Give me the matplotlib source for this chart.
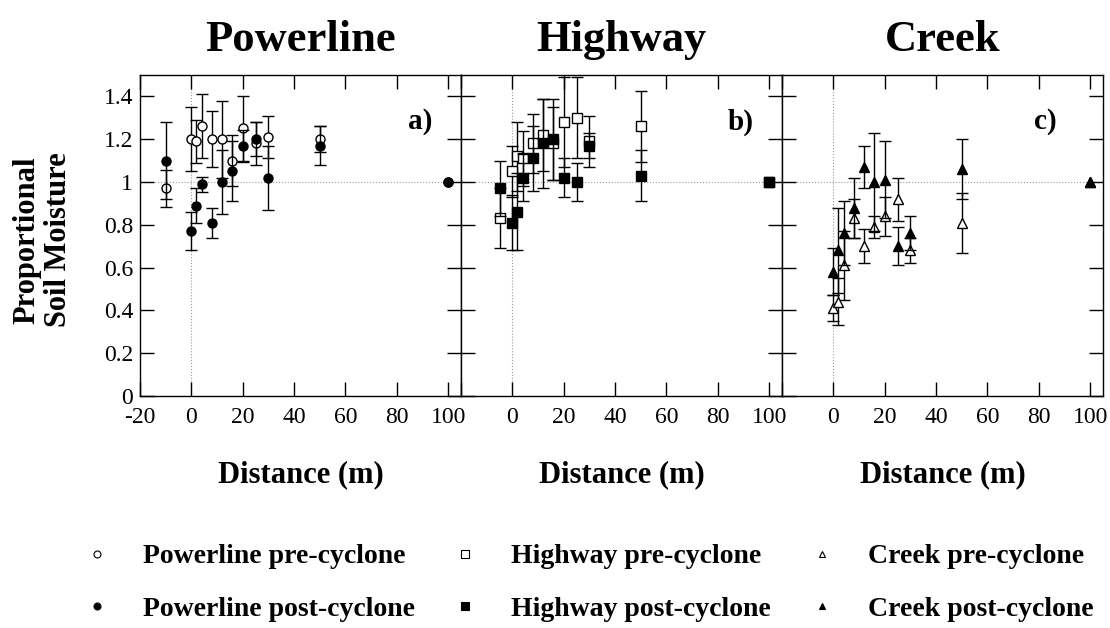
import numpy as np
import matplotlib
matplotlib.use("Agg")
import matplotlib.pyplot as plt
from matplotlib.lines import Line2D

plt.rcParams['font.family'] = ['Liberation Serif', 'DejaVu Serif']

# Distances (m) for each site
dist_pl = [-10, 0, 2, 4, 8, 12, 16, 20, 25, 30, 50, 100]
dist_hw = [-5, 0, 2, 4, 8, 12, 16, 20, 25, 30, 50, 100]
dist_ck = [0, 2, 4, 8, 12, 16, 20, 25, 30, 50, 100]

# Powerline
pl_pre = [0.97, 1.20, 1.19, 1.26, 1.20, 1.20, 1.10, 1.25, 1.18, 1.21, 1.20, 1.00]
pl_pre_err = [0.085, 0.15, 0.10, 0.15, 0.13, 0.18, 0.12, 0.15, 0.10, 0.10, 0.06, 0]
pl_post = [1.10, 0.77, 0.89, 0.99, 0.81, 1.00, 1.05, 1.17, 1.20, 1.02, 1.17, 1.00]
pl_post_err = [0.18, 0.09, 0.08, 0.035, 0.07, 0.15, 0.14, 0.075, 0.08, 0.15, 0.09, 0]

# Highway
hw_pre = [0.83, 1.05, 1.12, 1.11, 1.18, 1.22, 1.18, 1.28, 1.30, 1.19, 1.26, 1.00]
hw_pre_err = [0.14, 0.12, 0.16, 0.13, 0.14, 0.17, 0.17, 0.21, 0.19, 0.12, 0.165, 0]
hw_post = [0.97, 0.81, 0.86, 1.02, 1.11, 1.18, 1.20, 1.02, 1.00, 1.17, 1.03, 1.00]
hw_post_err = [0.13, 0.13, 0.18, 0.11, 0.15, 0.21, 0.19, 0.09, 0.09, 0.06, 0.12, 0]

# Creek
ck_pre = [0.41, 0.44, 0.61, 0.83, 0.70, 0.79, 0.84, 0.92, 0.68, 0.81, 1.00]
ck_pre_err = [0.06, 0.11, 0.16, 0.09, 0.08, 0.05, 0.09, 0.10, 0.06, 0.14, 0]
ck_post = [0.58, 0.68, 0.76, 0.88, 1.07, 1.00, 1.01, 0.70, 0.76, 1.06, 1.00]
ck_post_err = [0.11, 0.20, 0.15, 0.14, 0.10, 0.23, 0.18, 0.09, 0.08, 0.14, 0]

titles = ['Powerline', 'Highway', 'Creek']
panel_tags = ['a)', 'b)', 'c)']
xticks = [-20, 0, 20, 40, 60, 80, 100]
yticks = [0, 0.2, 0.4, 0.6, 0.8, 1, 1.2, 1.4]

panels = [
    (dist_pl, pl_pre, pl_pre_err, pl_post, pl_post_err, 'o', 6.5),
    (dist_hw, hw_pre, hw_pre_err, hw_post, hw_post_err, 's', 7.5),
    (dist_ck, ck_pre, ck_pre_err, ck_post, ck_post_err, '^', 7),
]

fig, axes = plt.subplots(1, 3, figsize=(11.1, 6.28), dpi=100, sharey=True)
fig.subplots_adjust(left=0.1261, right=0.9937, bottom=0.3694, top=0.8806, wspace=0)


def draw_series(ax, x, y, err, marker, ms, face):
    x = np.asarray(x, float)
    y = np.asarray(y, float)
    err = np.asarray(err, float)
    m = err > 0
    ax.errorbar(x[m], y[m], yerr=err[m], fmt='none', ecolor='black',
                elinewidth=1, capsize=4, capthick=1)
    ax.plot(x, y, linestyle='none', marker=marker, ms=ms,
            mfc=face, mec='black', mew=1)


for i, ax in enumerate(axes):
    x, pre, pre_e, post, post_e, mk, ms = panels[i]
    ax.axhline(1, color='#999999', lw=0.8, ls=':', zorder=0)
    ax.axvline(0, color='#999999', lw=0.8, ls=':', zorder=0)
    draw_series(ax, x, pre, pre_e, mk, ms, 'white')
    draw_series(ax, x, post, post_e, mk, ms, 'black')

    ax.set_xlim(-20, 105)
    ax.set_ylim(0, 1.5)
    ax.set_xticks(xticks)
    labels = [str(t) for t in xticks]
    if i > 0:
        labels[0] = ''
    ax.set_xticklabels(labels)
    ax.set_yticks(yticks)
    ax.set_yticklabels(['%g' % t for t in yticks])
    ax.tick_params(direction='in', length=10, width=1, top=True, right=True,
                   labelsize=17)
    ax.tick_params(axis='x', pad=8)
    ax.tick_params(axis='y', pad=5)
    if i > 0:
        ax.tick_params(labelleft=False)
    for s in ax.spines.values():
        s.set_linewidth(1)

    ax.set_title(titles[i], fontsize=32, fontweight='bold', pad=17)
    ax.set_xlabel('Distance (m)', fontsize=22, fontweight='bold', labelpad=23)
    tx = 0.82 if i == 2 else 0.872
    ax.text(tx, 0.854, panel_tags[i], transform=ax.transAxes, fontsize=21,
            fontweight='bold', ha='center', va='center')

fig.text(43 / 1110, 1 - 240 / 628, 'Proportional\nSoil Moisture', rotation=90,
         fontsize=22, fontweight='bold', ha='center', va='center',
         multialignment='center', linespacing=1.1)

# legend: one column of entries per site
legend_labels = [('Powerline pre-cyclone', 'Powerline post-cyclone'),
                 ('Highway pre-cyclone', 'Highway post-cyclone'),
                 ('Creek pre-cyclone', 'Creek post-cyclone')]
legend_markers = [('o', 5), ('s', 6), ('^', 5)]
legend_x = [83, 451, 808]
for (mk, ms), labs, lx in zip(legend_markers, legend_labels, legend_x):
    h = [Line2D([], [], ls='none', marker=mk, ms=ms, mfc='white', mec='black', mew=0.8),
         Line2D([], [], ls='none', marker=mk, ms=ms, mfc='black', mec='black', mew=0.8)]
    fig.legend(h, list(labs), loc='center left',
               bbox_to_anchor=(lx / 1110, 1 - 583 / 628), frameon=False,
               prop={'size': 20, 'weight': 'bold'}, handlelength=1,
               handletextpad=1.16, labelspacing=0.98, borderpad=0,
               borderaxespad=0)

fig.savefig('out.png', dpi=100)
